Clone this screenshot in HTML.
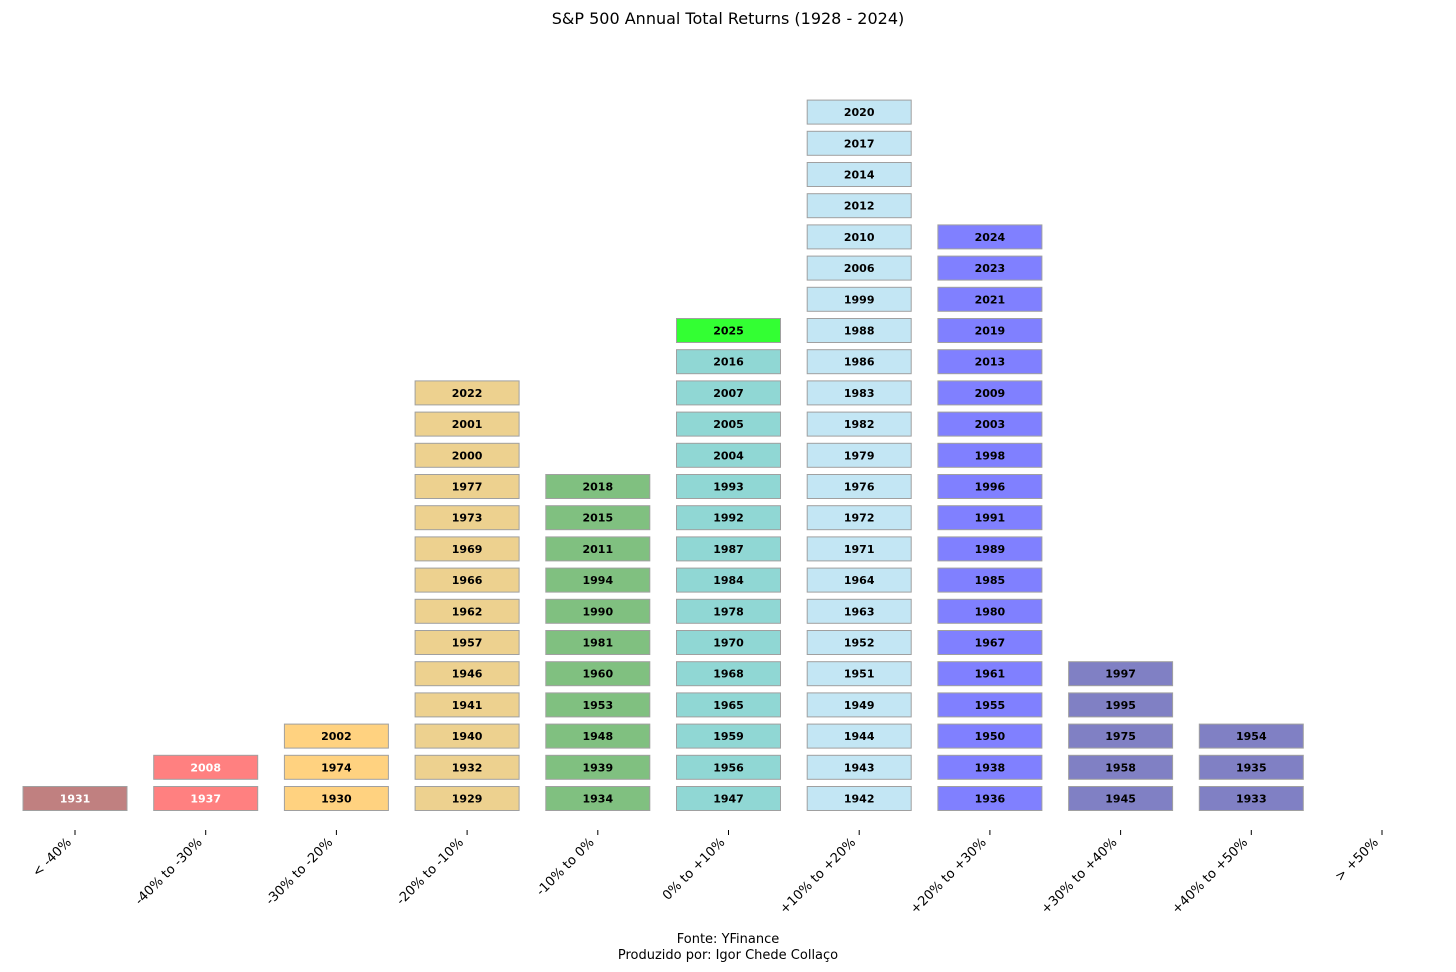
<!DOCTYPE html>
<html><head><meta charset="utf-8">
<style>
html,body{margin:0;padding:0;background:#fff;}
svg{display:block;font-family:"DejaVu Sans","Liberation Sans",sans-serif;}
</style></head>
<body>
<svg id="chart" width="1456" height="972" viewBox="0 0 1456 972" xmlns="http://www.w3.org/2000/svg">
<text x="728" y="24" text-anchor="middle" font-size="16">S&amp;P 500 Annual Total Returns (1928 - 2024)</text>
<g id="marks"></g>
<text x="728" y="943" text-anchor="middle" font-size="13">Fonte: YFinance</text>
<text x="728" y="959" text-anchor="middle" font-size="13">Produzido por: Igor Chede Collaço</text>
</svg>
<script>
const categories = ["< -40%","-40% to -30%","-30% to -20%","-20% to -10%","-10% to 0%","0% to +10%","+10% to +20%","+20% to +30%","+30% to +40%","+40% to +50%","> +50%"];
const colLt40 = [1931];
const col40to30 = [1937,2008];
const col30to20 = [1930,1974,2002];
const col20to10 = [1929,1932,1940,1941,1946,1957,1962,1966,1969,1973,1977,2000,2001,2022];
const col10to0 = [1934,1939,1948,1953,1960,1981,1990,1994,2011,2015,2018];
const col0to10 = [1947,1956,1959,1965,1968,1970,1978,1984,1987,1992,1993,2004,2005,2007,2016,2025];
const col10to20 = [1942,1943,1944,1949,1951,1952,1963,1964,1971,1972,1976,1979,1982,1983,1986,1988,1999,2006,2010,2012,2014,2017,2020];
const col20to30 = [1936,1938,1950,1955,1961,1967,1980,1985,1989,1991,1996,1998,2003,2009,2013,2019,2021,2023,2024];
const col30to40 = [1945,1958,1975,1995,1997];
const col40to50 = [1933,1935,1954];
const colGt50 = [];
const columns = [colLt40,col40to30,col30to20,col20to10,col10to0,col0to10,col10to20,col20to30,col30to40,col40to50,colGt50];
const colors = ["#c08080","#ff8080","#ffd280","#edd18f","#80c080","#90d7d4","#c3e6f4","#8080ff","#8080c4","#8080c4","#8080c4"];
const textColors = ["#fff","#fff","#000","#000","#000","#000","#000","#000","#000","#000","#000"];
const highlightYear = 2025;
const highlightColor = "#33ff33";

const ns = "http://www.w3.org/2000/svg";
const g = document.getElementById("marks");
const x0 = 75, dx = 130.7;
const xScale = i => x0 + i*dx;
const y0 = 798.5, dy = 31.2;
const yScale = r => y0 - r*dy;
const bw = 104, bh = 24;

columns.forEach((years, ci) => {
  const cx = xScale(ci);
  years.forEach((yr, ri) => {
    const cy = yScale(ri);
    const r = document.createElementNS(ns, "rect");
    
    
    r.setAttribute("x", cx - bw/2);
    r.setAttribute("y", cy - bh/2);
    r.setAttribute("width", bw);
    r.setAttribute("height", bh);
    r.setAttribute("fill", yr === highlightYear ? highlightColor : colors[ci]);
    r.setAttribute("stroke", "#a0a0a0");
    r.setAttribute("stroke-width", "1");
    g.appendChild(r);
    const t = document.createElementNS(ns, "text");
    
    
    t.setAttribute("x", cx);
    t.setAttribute("y", cy + 4);
    t.setAttribute("text-anchor", "middle");
    t.setAttribute("font-size", "11");
    t.setAttribute("font-weight", "bold");
    t.setAttribute("fill", textColors[ci]);
    t.textContent = yr;
    g.appendChild(t);
  });
  const tk = document.createElementNS(ns, "line");
  
  
  tk.setAttribute("x1", cx); tk.setAttribute("x2", cx);
  tk.setAttribute("y1", 830); tk.setAttribute("y2", 835);
  tk.setAttribute("stroke", "#000");
  tk.setAttribute("stroke-width", "1");
  g.appendChild(tk);
  const lx = cx - 3, ly = 843;
  const lb = document.createElementNS(ns, "text");
  
  
  lb.setAttribute("x", lx);
  lb.setAttribute("y", ly);
  lb.setAttribute("text-anchor", "end");
  lb.setAttribute("font-size", "13");
  lb.setAttribute("transform", "rotate(-45 " + lx + " " + ly + ")");
  lb.textContent = categories[ci];
  g.appendChild(lb);
});
</script>
</body></html>
